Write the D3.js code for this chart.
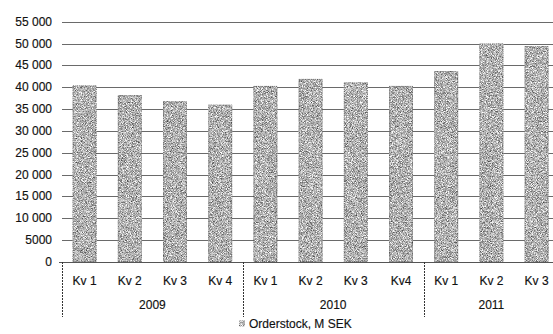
<!DOCTYPE html>
<html>
<head>
<meta charset="utf-8">
<script src="https://cdn.jsdelivr.net/npm/d3@7"></script>
<style>
  html, body { margin: 0; padding: 0; background: #fff; }
  svg { display: block; }
  text { font-family: "Liberation Sans", Arial, sans-serif; fill: #111; stroke: #111; stroke-width: 0.15px; }
</style>
</head>
<body>
<svg id="chart" width="553" height="334"></svg>
<script>
// Order stock per quarter, MSEK
const quarters = ["Kv 1", "Kv 2", "Kv 3", "Kv 4", "Kv 1", "Kv 2", "Kv 3", "Kv4", "Kv 1", "Kv 2", "Kv 3"];
const years = ["2009", "2009", "2009", "2009", "2010", "2010", "2010", "2010", "2011", "2011", "2011"];
const orderstock = [40400, 38200, 36800, 36000, 40300, 41900, 41100, 40300, 43700, 50000, 49400];
const yTicks = [0, 5000, 10000, 15000, 20000, 25000, 30000, 35000, 40000, 45000, 50000, 55000];
const seriesName = "Orderstock, M SEK";

const svg = d3.select("#chart");
const W = 553;
const plotLeft = 62, base = 262, plotTop = 21.7, bandW = 45.2, axisBottom = 317;

const x = d3.scaleBand()
  .domain(d3.range(quarters.length))
  .range([plotLeft, plotLeft + bandW * quarters.length])
  .paddingInner(0.47)
  .paddingOuter(0.235);

const y = d3.scaleLinear().domain([0, 55000]).range([base, plotTop]);

// grainy fill for the bars
const defs = svg.append("defs");
const f = defs.append("filter").attr("id", "grain")
  .attr("color-interpolation-filters", "sRGB")
  .attr("x", 0).attr("y", 0).attr("width", 1).attr("height", 1);
f.append("feTurbulence").attr("type", "fractalNoise")
  .attr("baseFrequency", 1.2).attr("numOctaves", 2).attr("seed", 7).attr("result", "n");
f.append("feColorMatrix").attr("in", "n").attr("type", "matrix")
  .attr("values", "1.25 0 0 0 0.07  1.25 0 0 0 0.07  1.25 0 0 0 0.07  0 0 0 0 1")
  .attr("result", "g");
f.append("feComposite").attr("in", "g").attr("in2", "SourceGraphic").attr("operator", "in");

// Swedish-style grouping: a space only from five digits up
const fmt = v => v >= 10000 ? d3.format(",")(v).replace(/,/g, " ") : String(v);

// gridlines
svg.append("g").selectAll("line").data(yTicks.filter(d => d > 0)).join("line")
  .attr("x1", plotLeft).attr("x2", W)
  .attr("y1", d => Math.round(y(d)) + 0.5).attr("y2", d => Math.round(y(d)) + 0.5)
  .attr("stroke", "#6a6a6a").attr("stroke-width", 1);

// y-axis labels
svg.append("g").selectAll("text").data(yTicks).join("text")
  .attr("x", 52).attr("y", d => y(d) + 4)
  .attr("text-anchor", "end").attr("font-size", 12)
  .text(fmt);

// bars
const bars = svg.append("g");
bars.selectAll("rect.fill").data(orderstock).join("rect").attr("class", "fill")
  .attr("x", (d, i) => x(i)).attr("width", x.bandwidth())
  .attr("y", d => y(d)).attr("height", d => base - y(d))
  .attr("fill", "#aaa").attr("filter", "url(#grain)");
bars.selectAll("rect.edge").data(orderstock).join("rect").attr("class", "edge")
  .attr("x", (d, i) => x(i) + 0.5).attr("width", x.bandwidth() - 1)
  .attr("y", d => y(d) + 0.5).attr("height", d => base - y(d) - 1)
  .attr("fill", "none").attr("stroke", "#555").attr("stroke-opacity", 0.6)
  .attr("stroke-dasharray", "1,1");

// baseline and left axis line
svg.append("line").attr("x1", plotLeft).attr("x2", W)
  .attr("y1", base + 0.5).attr("y2", base + 0.5).attr("stroke", "#555");
svg.append("line").attr("x1", plotLeft + 0.5).attr("x2", plotLeft + 0.5)
  .attr("y1", base).attr("y2", axisBottom).attr("stroke", "#333").attr("stroke-dasharray", "2,1");
svg.append("line").attr("x1", plotLeft - 3).attr("x2", plotLeft)
  .attr("y1", base + 0.5).attr("y2", base + 0.5).attr("stroke", "#555");

// quarter labels
svg.append("g").selectAll("text").data(quarters).join("text")
  .attr("x", (d, i) => x(i) + x.bandwidth() / 2).attr("y", 285)
  .attr("text-anchor", "middle").attr("font-size", 12)
  .text(d => d);

// year groups with separators
const groups = d3.groups(years.map((yr, i) => ({ yr, i })), d => d.yr);
groups.forEach(([yr, items], gi) => {
  const x0 = x(items[0].i) - x.step() * x.paddingOuter();
  const x1 = x0 + x.step() * items.length;
  svg.append("text").attr("x", (x0 + x1) / 2)
    .attr("y", 309).attr("text-anchor", "middle").attr("font-size", 12).text(yr);
  if (gi > 0) {
    svg.append("line").attr("x1", Math.round(x0) + 0.5).attr("x2", Math.round(x0) + 0.5)
      .attr("y1", base).attr("y2", axisBottom).attr("stroke", "#333").attr("stroke-dasharray", "2,1");
  }
});

// legend
const lg = svg.append("g").attr("transform", "translate(239,324)");
lg.append("rect").attr("x", 0).attr("y", -3.5).attr("width", 6).attr("height", 6)
  .attr("fill", "#aaa").attr("filter", "url(#grain)");
lg.append("text").attr("x", 10).attr("y", 4).attr("font-size", 12).text(seriesName);
</script>
</body>
</html>
